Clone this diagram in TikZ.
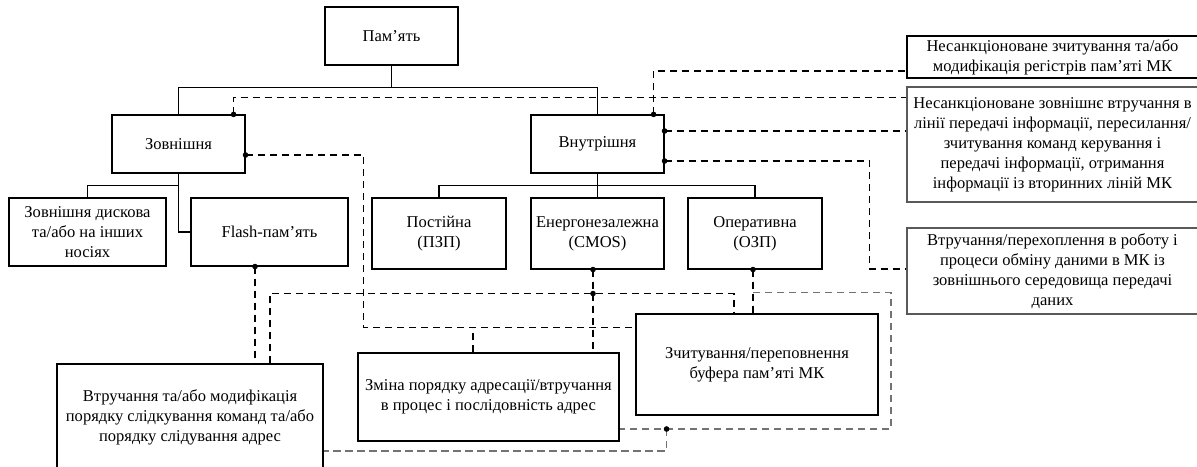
\documentclass[tikz,border=0pt]{standalone}
\usepackage{fontspec}
\setmainfont{Liberation Serif}
\usetikzlibrary{calc}
\begin{document}
\begin{tikzpicture}[x=0.75pt,y=-0.75pt,
  bx/.style 2 args={draw,line width=0.85pt,inner sep=0pt,align=center,
    minimum width=#1*0.75pt,minimum height=#2*0.75pt,font=\fontsize{12.4}{15}\selectfont},
  tree/.style={line width=0.85pt},
  dsh/.style={dash pattern=on 5.5pt off 3.5pt,line width=0.9pt},
  gdsh/.style={dsh,draw=black!55}
]
\clip (0,0) rectangle (1197,467);
\fill[white] (0,0) rectangle (1197,467);

% nodes
\node[bx={133}{58}] (pam) at (391.5,36) {Пам’ять};
\node[bx={133}{58}] (zovn) at (178.5,144) {Зовнішня};
\node[bx={133}{58}] (vnut) at (597.5,144) {Внутрішня};
\node[bx={157}{68}] (disk) at (87.5,232) {Зовнішня дискова\\та/або на інших\\носіях};
\node[bx={157}{68}] (flash) at (269.5,232) {Flash-пам’ять};
\node[bx={134}{71}] (post) at (439,233.5) {Постійна\\(ПЗП)};
\node[bx={133}{71}] (energ) at (597.5,233.5) {Енергонезалежна\\(CMOS)};
\node[bx={134}{71}] (oper) at (755,233.5) {Оперативна\\(ОЗП)};
\node[bx={291}{42}] (r1) at (1052.5,57) {Несанкціоноване зчитування та/або\\модифікація регістрів пам’яті МК};
\node[bx={291}{115},draw=black!65] (r2) at (1052.5,144.5) {Несанкціоноване зовнішнє втручання в\\лінії передачі інформації, пересилання/\\зчитування команд керування і\\передачі інформації, отримання\\інформації із вторинних ліній МК};
\node[bx={291}{86},draw=black!65] (r3) at (1052.5,271) {Втручання/перехоплення в роботу і\\процеси обміну даними в МК із\\зовнішнього середовища передачі\\даних};
\node[bx={266}{106}] (vtr) at (190,417) {Втручання та/або модифікація\\порядку слідкування команд та/або\\порядку слідування адрес};
\node[bx={261}{88}] (zmina) at (488.5,397) {Зміна порядку адресації/втручання\\в процес і послідовність адрес};
\node[bx={242}{101}] (zchyt) at (757,364.5) {Зчитування/переповнення\\буфера пам’яті МК};

% tree
\draw[tree] (pam.south) -- ++(0,22) coordinate (t0);
\draw[tree] (zovn.north) |- (t0) -| (vnut.north);
\draw[tree] (zovn.south) -- ++(0,12) coordinate (t1);
\draw[tree] (disk.north) |- (t1) |- (flash.west);
\draw[tree] (vnut.south) -- ++(0,12) coordinate (t2);
\draw[tree] (post.north) |- (t2) -| (oper.north);
\draw[tree] (t2) -- (energ.north);

% dashed coordinates
\coordinate (z1) at ($(zovn.north east)+(-12,0)$);
\coordinate (z2) at ($(zovn.east)+(0,11)$);
\coordinate (v1) at ($(vnut.north east)+(-11,0)$);
\coordinate (v2) at ($(vnut.east)+(0,-13)$);
\coordinate (v3) at ($(vnut.east)+(0,17)$);
\coordinate (f1) at ($(flash.south)+(-14.5,0)$);
\coordinate (e1) at ($(energ.south)+(-4.5,0)$);
\coordinate (e2) at ($(e1)+(0,24)$);
\coordinate (o1) at ($(oper.south)+(-2,0)$);
\coordinate (o2) at ($(o1)+(0,23)$);
\coordinate (k4) at ($(v3)+(205,0)$);
\coordinate (k5) at ($(z2)+(118,0)$);
\coordinate (k6) at ($(o2)+(138,0)$);
\coordinate (k8) at ($(zchyt.north west)+(0,14)$);
\coordinate (zm1) at ($(zmina.north)+(-15.5,0)$);
\coordinate (w1) at ($(vtr.north)+(80,0)$);
\coordinate (c1) at ($(zchyt.north)+(-23,0)$);
\coordinate (m1) at ($(zmina.east)+(0,32)$);
\coordinate (d8) at ($(m1)+(47,0)$);
\coordinate (m2) at ($(vtr.east)+(0,34)$);

% dashed connectors
\draw[dsh] (z1) |- ($(r2.north west)+(0,11)$);
\draw[dsh] (v1) |- ($(r1.west)+(0,14)$);
\draw[dsh] (v2) -- (v2 -| r2.west);
\draw[dsh] (v3) -- (k4) |- ($(r3.west)+(0,-2)$);
\draw[dsh] (z2) -- (k5) |- (k8);
\draw[dsh] (zm1) -- (zm1 |- k8);
\draw[dsh] (f1) -- (f1 |- vtr.north);
\draw[dsh] (e1) -- (e2) -- (e2 |- zmina.north);
\draw[dsh] (w1) |- (e2) -| (c1);
\draw[dsh] (o1) -- (o1 |- zchyt.north);
\draw[gdsh] (o2) -- (k6) |- (m1);
\draw[gdsh] (d8) |- (m2);

% dots
\foreach \p in {z1,z2,v1,v2,v3,f1,e1,e2,o1,d8}
  \fill (\p) circle (2.8);
\end{tikzpicture}
\end{document}
